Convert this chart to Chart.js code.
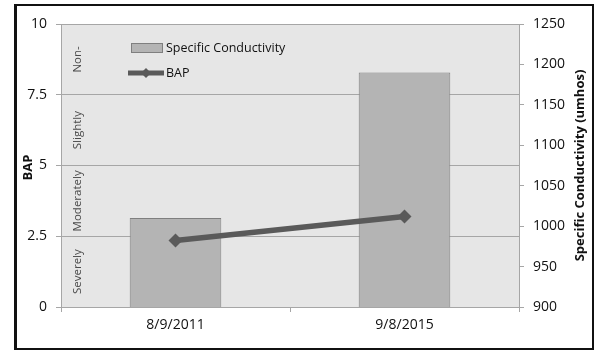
<!DOCTYPE html>
<html>
<head>
<meta charset="utf-8">
<script src="https://cdn.jsdelivr.net/npm/chart.js@4"></script>
<style>
  html, body { margin: 0; padding: 0; background: #fff; }
  #wrap { position: relative; width: 598px; height: 352px; }
  #frame {
    position: absolute; left: 14px; top: 4px; width: 575px; height: 342px;
    border: 2px solid #111; border-left-width: 3px; pointer-events: none;
  }
</style>
</head>
<body>
<div id="wrap">
  <canvas id="bap-chart" width="598" height="352"></canvas>
  <div id="frame"></div>
</div>
<script>
const dates = ["8/9/2011", "9/8/2015"];
const conductivity = [1010, 1190];
const bap = [2.35, 3.2];
const bapTicks = [0, 2.5, 5, 7.5, 10];
const bands = [
  { label: "Severely", from: 0, to: 2.5 },
  { label: "Moderately", from: 2.5, to: 5 },
  { label: "Slightly", from: 5, to: 7.5 },
  { label: "Non-", from: 7.5, to: 10 },
];

const FONT = "'Open Sans', sans-serif";
const barFill = "#b4b4b4";
const barEdge = "#7f7f7f";
const lineColor = "#5a5a5a";
const gridColor = "#a6a6a6";

// plot background, band names, legend and axis titles
const decorations = {
  id: "decorations",
  beforeDraw(chart) {
    const { ctx, chartArea: a } = chart;
    ctx.save();
    ctx.fillStyle = "#e6e6e6";
    ctx.fillRect(a.left, a.top, a.right - a.left, a.bottom - a.top);
    ctx.restore();
  },
  beforeDatasetsDraw(chart) {
    const { ctx, chartArea: a } = chart;
    const y = chart.scales.y;
    ctx.save();
    ctx.fillStyle = "#4a4a4a";
    ctx.font = "11.5px " + FONT;
    ctx.textAlign = "center";
    ctx.textBaseline = "middle";
    bands.forEach(function (b) {
      const cy = (y.getPixelForValue(b.from) + y.getPixelForValue(b.to)) / 2;
      ctx.save();
      ctx.translate(a.left + 17, cy);
      ctx.rotate(-Math.PI / 2);
      ctx.fillText(b.label, 0, 0);
      ctx.restore();
    });
    ctx.restore();
  },
  afterDraw(chart) {
    const { ctx, chartArea: a } = chart;
    ctx.save();
    // legend
    ctx.fillStyle = barFill;
    ctx.strokeStyle = barEdge;
    ctx.lineWidth = 1;
    ctx.fillRect(131.5, 43.5, 31, 9);
    ctx.strokeRect(131.5, 43.5, 31, 9);
    ctx.strokeStyle = lineColor;
    ctx.lineWidth = 5;
    ctx.beginPath();
    ctx.moveTo(128, 73);
    ctx.lineTo(164, 73);
    ctx.stroke();
    ctx.fillStyle = lineColor;
    ctx.beginPath();
    ctx.moveTo(146, 68);
    ctx.lineTo(151, 73);
    ctx.lineTo(146, 78);
    ctx.lineTo(141, 73);
    ctx.closePath();
    ctx.fill();
    ctx.fillStyle = "#111";
    ctx.font = "12.5px " + FONT;
    ctx.textAlign = "left";
    ctx.textBaseline = "middle";
    ctx.fillText("Specific Conductivity", 166, 48);
    ctx.fillText("BAP", 166, 73);
    // axis titles
    ctx.font = "bold 13px " + FONT;
    ctx.textAlign = "center";
    const mid = (a.top + a.bottom) / 2;
    ctx.save();
    ctx.translate(28, mid + 2);
    ctx.rotate(-Math.PI / 2);
    ctx.fillText("BAP", 0, 0);
    ctx.restore();
    ctx.save();
    ctx.translate(580, mid);
    ctx.rotate(-Math.PI / 2);
    ctx.fillText("Specific Conductivity (umhos)", 0, 0);
    ctx.restore();
    ctx.restore();
  },
};

const tickFont = { family: FONT, size: 14 };

new Chart(document.getElementById("bap-chart"), {
  data: {
    labels: dates,
    datasets: [
      {
        type: "line",
        label: "BAP",
        data: bap,
        yAxisID: "y",
        order: 0,
        borderColor: lineColor,
        backgroundColor: lineColor,
        borderWidth: 5.5,
        pointStyle: "rectRot",
        pointRadius: 7,
        pointBorderWidth: 0,
        pointBackgroundColor: lineColor,
      },
      {
        type: "bar",
        label: "Specific Conductivity",
        data: conductivity,
        yAxisID: "y2",
        order: 1,
        backgroundColor: barFill,
        borderColor: barEdge,
        borderWidth: 1,
        barPercentage: 0.4,
        categoryPercentage: 1,
      },
    ],
  },
  options: {
    responsive: false,
    animation: false,
    events: [],
    layout: { padding: { top: 24, left: 0, right: 0, bottom: 0 } },
    plugins: { legend: { display: false }, tooltip: { enabled: false } },
    scales: {
      x: {
        grid: { offset: true, drawOnChartArea: false, tickLength: 5, color: gridColor },
        border: { color: gridColor },
        ticks: { font: tickFont, color: "#111", padding: 5 },
        afterFit(s) { s.height = 45; },
      },
      y: {
        position: "left",
        min: 0,
        max: 10,
        afterBuildTicks(s) { s.ticks = bapTicks.map(function (v) { return { value: v }; }); },
        grid: { color: gridColor, tickLength: 5 },
        border: { color: gridColor },
        ticks: { font: tickFont, color: "#111", padding: 9 },
        afterFit(s) { s.width = 61; },
      },
      y2: {
        position: "right",
        min: 900,
        max: 1250,
        grid: { drawOnChartArea: false, color: gridColor, tickLength: 5 },
        border: { color: gridColor },
        ticks: {
          stepSize: 50,
          font: tickFont,
          color: "#111",
          padding: 9,
          callback: function (value) { return String(value); },
        },
        afterFit(s) { s.width = 79; },
      },
    },
  },
  plugins: [decorations],
});
</script>
</body>
</html>
